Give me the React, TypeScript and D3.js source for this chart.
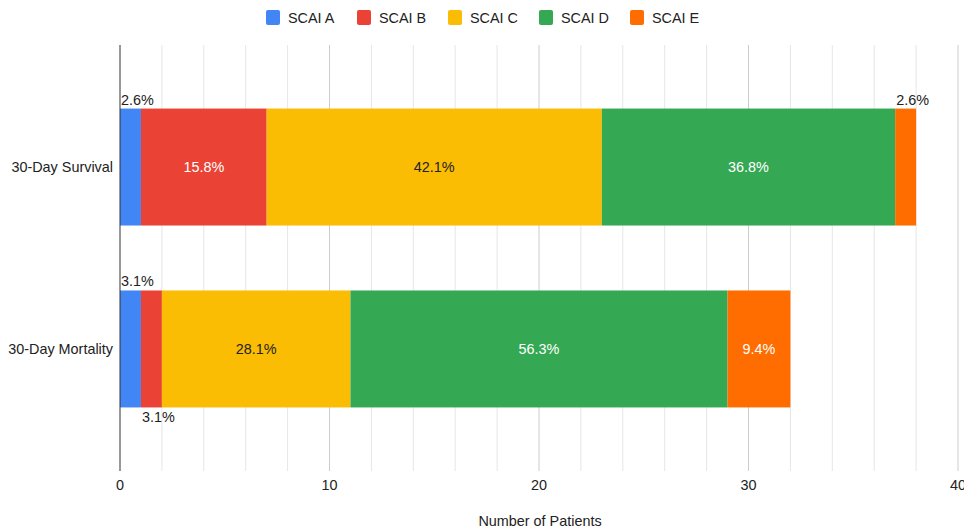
import React from 'react';
import * as d3 from 'd3';

const categories = ['30-Day Survival', '30-Day Mortality'];
const seriesNames = ['SCAI A', 'SCAI B', 'SCAI C', 'SCAI D', 'SCAI E'];
const colors = ['#4285f4', '#ea4335', '#fbbc04', '#34a853', '#ff6d01'];
const survival = [1, 6, 16, 14, 1];
const mortality = [1, 1, 9, 18, 3];
const survivalLabels = ['2.6%', '15.8%', '42.1%', '36.8%', '2.6%'];
const mortalityLabels = ['3.1%', '3.1%', '28.1%', '56.3%', '9.4%'];
const xTicks = [0, 10, 20, 30, 40];

const W = 964;
const H = 531;
const FONT = 'Liberation Sans, Arial, sans-serif';
const FS = 14.4;

// where a label sits: inside the bar, above it or below it
const survivalPos = ['above', 'in', 'in', 'in', 'above'];
const mortalityPos = ['above', 'below', 'in', 'in', 'in'];
const labelFill = ['#222', '#fff', '#222', '#fff', '#fff'];

export default function App() {
  const svgRef = React.useRef<SVGSVGElement | null>(null);

  React.useEffect(() => {
    const svg = d3.select(svgRef.current);
    svg.selectAll('*').remove();

    const plotTop = 45;
    const plotBottom = 471;

    const x = d3.scaleLinear().domain([0, 40]).range([120, 958]);
    const y = d3
      .scaleBand<string>()
      .domain(categories)
      .range([76, 440])
      .paddingInner(0.357)
      .paddingOuter(0.179);

    // grid, every 2 patients
    const grid = d3.range(2, 41, 2);
    svg.append('g')
      .selectAll('line')
      .data(grid)
      .join('line')
      .attr('x1', d => x(d))
      .attr('x2', d => x(d))
      .attr('y1', plotTop)
      .attr('y2', plotBottom)
      .attr('stroke', d => (d % 10 === 0 ? '#cccccc' : '#e6e6e6'))
      .attr('stroke-width', 1);

    const rows = [
      { cat: categories[0], vals: survival, labels: survivalLabels, pos: survivalPos },
      { cat: categories[1], vals: mortality, labels: mortalityLabels, pos: mortalityPos }
    ];

    rows.forEach(row => {
      const y0 = y(row.cat) as number;
      const bw = y.bandwidth();
      let acc = 0;
      const segs = row.vals.map((v, i) => {
        const s = { i, start: acc, end: acc + v };
        acc += v;
        return s;
      });
      const g = svg.append('g');
      g.selectAll('rect')
        .data(segs)
        .join('rect')
        .attr('x', d => x(d.start))
        .attr('y', y0)
        .attr('width', d => x(d.end) - x(d.start))
        .attr('height', bw)
        .attr('fill', d => colors[d.i]);

      g.selectAll('text.lbl')
        .data(segs)
        .join('text')
        .attr('class', 'lbl')
        .attr('font-family', FONT)
        .attr('font-size', FS)
        .attr('text-anchor', d => (row.pos[d.i] === 'in' ? 'middle' : 'start'))
        .attr('x', d => {
          if (row.pos[d.i] === 'in') return (x(d.start) + x(d.end)) / 2;
          return x(d.start) + 1;
        })
        .attr('y', d => {
          if (row.pos[d.i] === 'above') return y0 - 4;
          if (row.pos[d.i] === 'below') return y0 + bw + 15;
          return y0 + bw / 2 + 5;
        })
        .attr('fill', d => (row.pos[d.i] === 'in' ? labelFill[d.i] : '#222'))
        .text(d => row.labels[d.i]);

      svg.append('text')
        .attr('x', 113)
        .attr('y', y0 + bw / 2 + 5)
        .attr('text-anchor', 'end')
        .attr('font-family', FONT)
        .attr('font-size', FS)
        .attr('fill', '#222')
        .text(row.cat);
    });

    // zero line
    svg.append('line')
      .attr('x1', x(0))
      .attr('x2', x(0))
      .attr('y1', plotTop)
      .attr('y2', plotBottom)
      .attr('stroke', '#333')
      .attr('stroke-width', 1);

    svg.append('g')
      .selectAll('text')
      .data(xTicks)
      .join('text')
      .attr('x', d => x(d))
      .attr('y', 490)
      .attr('text-anchor', 'middle')
      .attr('font-family', FONT)
      .attr('font-size', FS)
      .attr('fill', '#222')
      .text(d => d);

    svg.append('text')
      .attr('x', 540)
      .attr('y', 526)
      .attr('text-anchor', 'middle')
      .attr('font-family', FONT)
      .attr('font-size', FS)
      .attr('fill', '#222')
      .text('Number of Patients');

    // legend
    const legend = svg.append('g');
    seriesNames.forEach((name, i) => {
      const lg = legend.append('g').attr('transform', `translate(${266 + i * 91},10)`);
      lg.append('rect').attr('width', 14).attr('height', 15).attr('rx', 2).attr('fill', colors[i]);
      lg.append('text')
        .attr('x', 22)
        .attr('y', 12.5)
        .attr('font-family', FONT)
        .attr('font-size', FS)
        .attr('fill', '#222')
        .text(name);
    });
  }, []);

  return (
    <div style={{ position: 'absolute', left: 0, top: 0 }}>
      <svg ref={svgRef} width={W} height={H} style={{ display: 'block', background: '#fff' }} />
    </div>
  );
}
